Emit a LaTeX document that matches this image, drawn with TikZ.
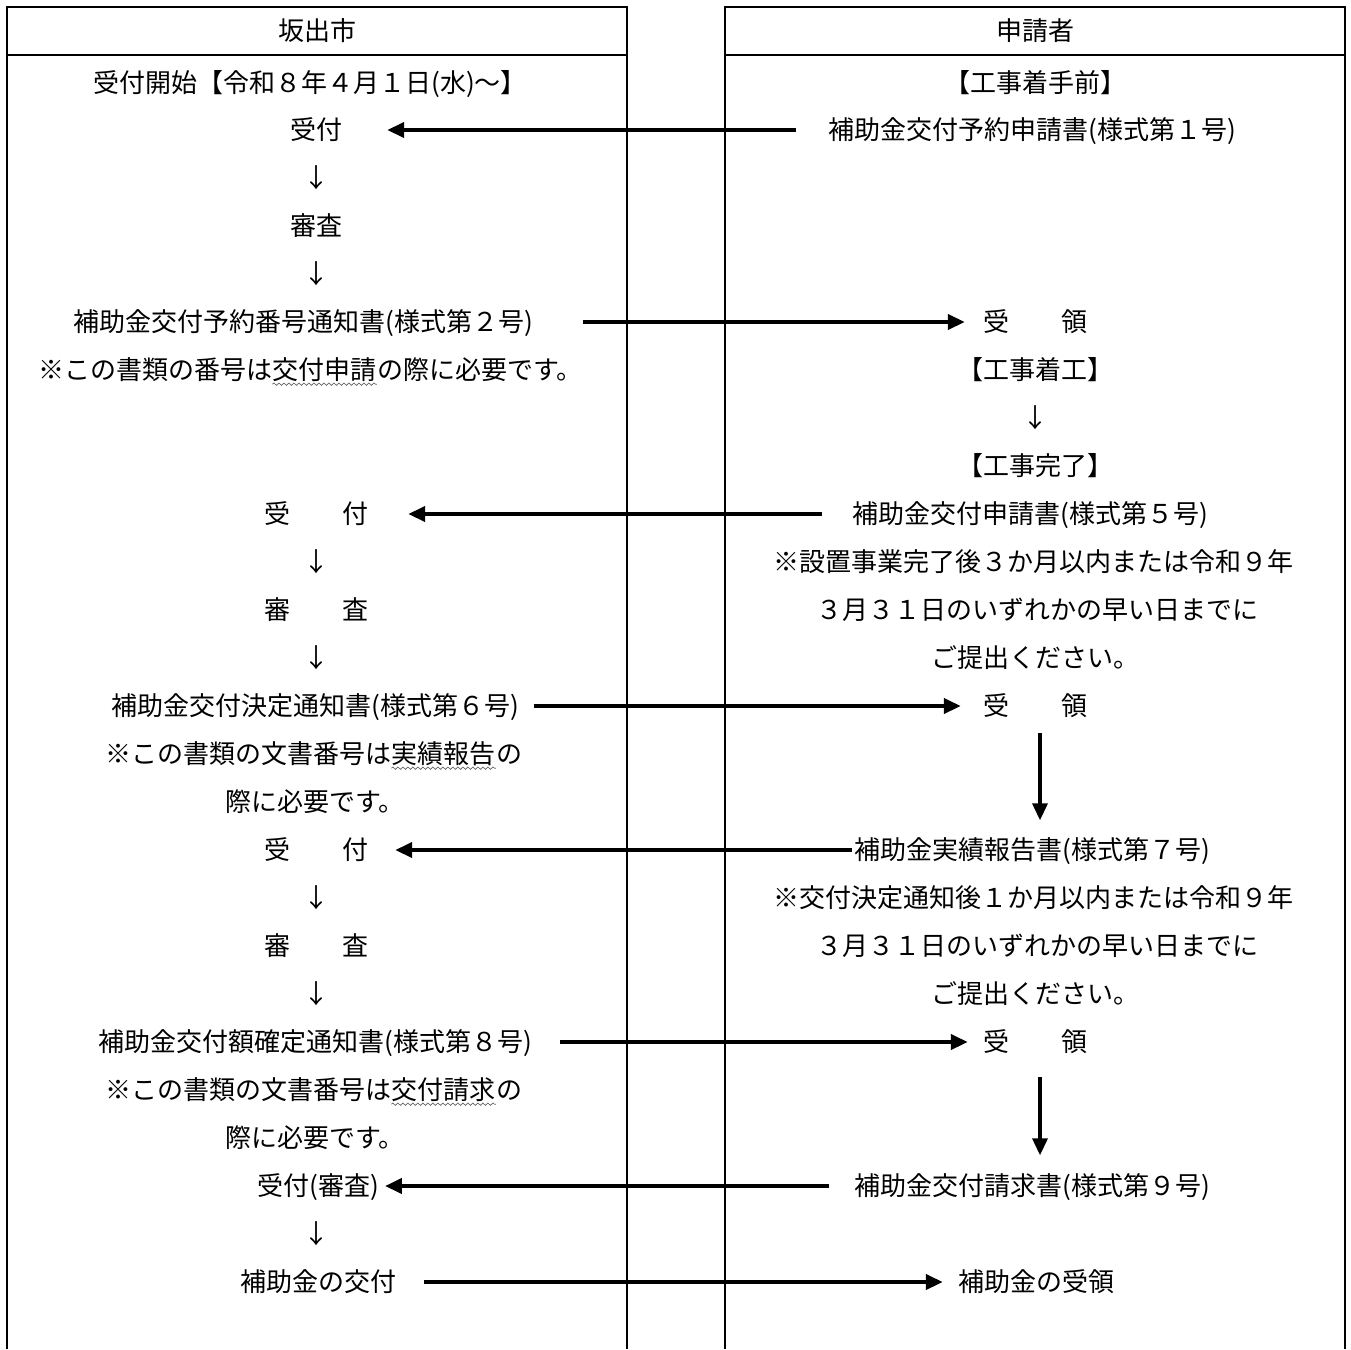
\documentclass[tikz,border=0pt]{standalone}
\usepackage{fontspec}
\newfontfamily\jpfont{Noto Sans CJK JP}
\usetikzlibrary{arrows.meta,decorations.pathmorphing}
\begin{document}
\begin{tikzpicture}[x=1pt,y=-1pt,
  txt/.style={font={\jpfont\fontsize{26pt}{30pt}\selectfont}, inner sep=0pt, text height=22pt, text depth=3pt},
  frame/.style={line width=1.3pt},
  harr/.style={line width=4pt, -{Triangle[length=17pt,width=15pt]}},
  varr/.style={line width=3.5pt, -{Triangle[length=17pt,width=15pt]}},
  wave/.style={draw=black!60, line width=0.7pt, decorate, decoration={snake, amplitude=1.2pt, segment length=5pt}}]
\useasboundingbox (0,0) rectangle (1351,1349);
% frames
\draw[frame] (7,1349) -- (7,7) -- (627,7) -- (627,1349);
\draw[frame] (7,55) -- (627,55);
\draw[frame] (725,1349) -- (725,7) -- (1345,7) -- (1345,1349);
\draw[frame] (725,55) -- (1345,55);
% headers
\node[txt] (Lh) at (317,31) {坂出市};
\node[txt] (Rh) at (1035,31) {申請者};
% left column
\node[txt] (L1) at (310,83) {受付開始【令和８年４月１日(水)～】};
\node[txt] (L2) at (316,130) {受付};
\node[txt] (La1) at (316,178) {↓};
\node[txt] (L3) at (316,226) {審査};
\node[txt] (La2) at (316,274) {↓};
\node[txt] (L4) at (303,322) {補助金交付予約番号通知書(様式第２号)};
\node[txt, anchor=west] (L5a) at (38,370) {※この書類の番号は};
\node[txt, anchor=west] (L5b) at (L5a.east) {交付申請};
\node[txt, anchor=west] (L5c) at (L5b.east) {の際に必要です。};
\node[txt] (L6) at (316,514) {受　　付};
\node[txt] (La3) at (316,562) {↓};
\node[txt] (L7) at (316,610) {審　　査};
\node[txt] (La4) at (316,658) {↓};
\node[txt] (L8) at (315,706) {補助金交付決定通知書(様式第６号)};
\node[txt, anchor=west] (L9a) at (105,754) {※この書類の文書番号は};
\node[txt, anchor=west] (L9b) at (L9a.east) {実績報告};
\node[txt, anchor=west] (L9c) at (L9b.east) {の};
\node[txt] (L10) at (315,802) {際に必要です。};
\node[txt] (L11) at (316,850) {受　　付};
\node[txt] (La5) at (316,898) {↓};
\node[txt] (L12) at (316,946) {審　　査};
\node[txt] (La6) at (316,994) {↓};
\node[txt] (L13) at (315,1042) {補助金交付額確定通知書(様式第８号)};
\node[txt, anchor=west] (L14a) at (105,1090) {※この書類の文書番号は};
\node[txt, anchor=west] (L14b) at (L14a.east) {交付請求};
\node[txt, anchor=west] (L14c) at (L14b.east) {の};
\node[txt] (L15) at (315,1138) {際に必要です。};
\node[txt] (L16) at (318,1186) {受付(審査)};
\node[txt] (La7) at (316,1234) {↓};
\node[txt] (L17) at (318,1282) {補助金の交付};
% right column
\node[txt] (R1) at (1035,83) {【工事着手前】};
\node[txt] (R2) at (1032,130) {補助金交付予約申請書(様式第１号)};
\node[txt] (R3) at (1035,322) {受　　領};
\node[txt] (R4) at (1035,370) {【工事着工】};
\node[txt] (Ra1) at (1035,418) {↓};
\node[txt] (R5) at (1035,466) {【工事完了】};
\node[txt] (R6) at (1030,514) {補助金交付申請書(様式第５号)};
\node[txt] (R7) at (1033,562) {※設置事業完了後３か月以内または令和９年};
\node[txt] (R8) at (1037,610) {３月３１日のいずれかの早い日までに};
\node[txt] (R9) at (1035,658) {ご提出ください。};
\node[txt] (R10) at (1035,706) {受　　領};
\node[txt] (R11) at (1032,850) {補助金実績報告書(様式第７号)};
\node[txt] (R12) at (1033,898) {※交付決定通知後１か月以内または令和９年};
\node[txt] (R13) at (1037,946) {３月３１日のいずれかの早い日までに};
\node[txt] (R14) at (1035,994) {ご提出ください。};
\node[txt] (R15) at (1035,1042) {受　　領};
\node[txt] (R16) at (1032,1186) {補助金交付請求書(様式第９号)};
\node[txt] (R17) at (1036,1282) {補助金の受領};
% wavy underlines
\draw[wave] ([yshift=-1.5pt]L5b.south west) -- ([yshift=-1.5pt]L5b.south east);
\draw[wave] ([yshift=-1.5pt]L9b.south west) -- ([yshift=-1.5pt]L9b.south east);
\draw[wave] ([yshift=-1.5pt]L14b.south west) -- ([yshift=-1.5pt]L14b.south east);
% horizontal arrows
\draw[harr, shorten <=32pt, shorten >=45pt] (R2) -- (L2);
\draw[harr, shorten <=50pt, shorten >=18pt] (L4) -- (R3);
\draw[harr, shorten <=30pt, shorten >=40pt] (R6) -- (L6);
\draw[harr, shorten <=15pt, shorten >=22pt] (L8) -- (R10);
\draw[harr, shorten <=2pt, shorten >=27pt] (R11) -- (L11);
\draw[harr, shorten <=28pt, shorten >=15pt] (L13) -- (R15);
\draw[harr, shorten <=25pt, shorten >=6pt] (R16) -- (L16);
\draw[harr, shorten <=28pt, shorten >=15pt] (L17) -- (R17);
% vertical arrows
\draw[varr, shorten <=14pt, shorten >=17pt] ([xshift=5pt]R10.south) -- ([xshift=5pt]R10.south |- R11.north);
\draw[varr, shorten <=22pt, shorten >=18pt] ([xshift=5pt]R15.south) -- ([xshift=5pt]R15.south |- R16.north);
\end{tikzpicture}
\end{document}
